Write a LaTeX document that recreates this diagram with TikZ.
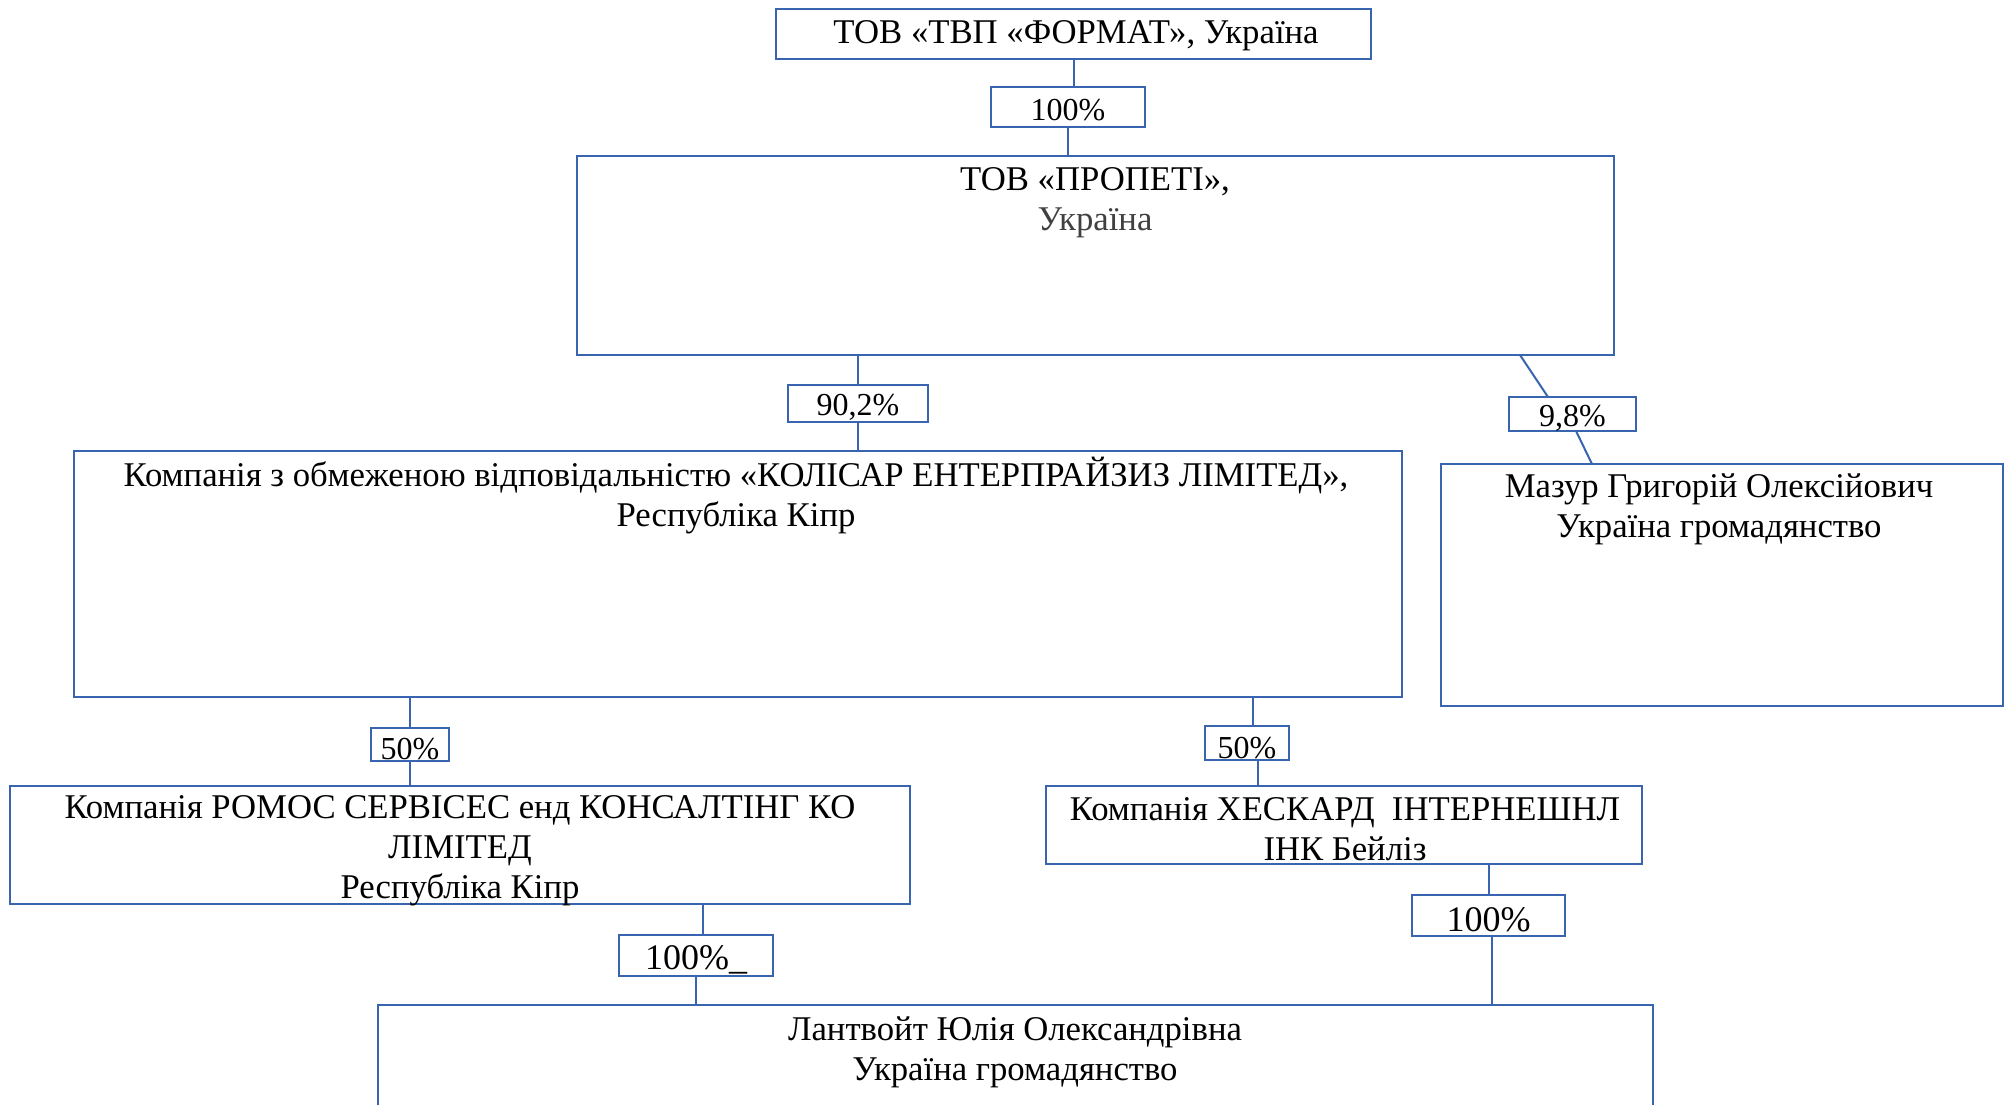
\documentclass[tikz,border=0pt]{standalone}
\usepackage{fontspec}
\setmainfont{Liberation Serif}
\definecolor{lineblue}{RGB}{56,100,176}
\begin{document}
\begin{tikzpicture}[x=1pt,y=-1pt,
  box/.style={draw=lineblue,line width=2.5pt,rectangle,inner sep=0pt,outer sep=0pt,fill=white},
  conn/.style={draw=lineblue,line width=2pt},
  main/.style={font=\fontsize{34.7}{40}\selectfont,align=center,inner sep=0pt},
  pct/.style={font=\fontsize{32}{38}\selectfont,inner sep=0pt},
  bigpct/.style={font=\fontsize{36}{40}\selectfont,inner sep=0pt}]
\clip (0,0) rectangle (2011,1104);
\fill[white] (0,0) rectangle (2011,1104);

% boxes
\node[box,minimum width=595,minimum height=50]  (b1) at (1073.5,34) {};
\node[box,minimum width=154,minimum height=40]  (p1) at (1068,107) {};
\node[box,minimum width=1037,minimum height=199] (b2) at (1095.5,255.5) {};
\node[box,minimum width=140,minimum height=37]  (p2) at (858,403.5) {};
\node[box,minimum width=127,minimum height=34]  (p3) at (1572.5,414) {};
\node[box,minimum width=1328,minimum height=246] (b3) at (738,574) {};
\node[box,minimum width=562,minimum height=242] (b4) at (1722,585) {};
\node[box,minimum width=78,minimum height=33]   (p4) at (410,744.5) {};
\node[box,minimum width=84,minimum height=34]   (p5) at (1247,743) {};
\node[box,minimum width=900,minimum height=118] (b5) at (460,845) {};
\node[box,minimum width=596,minimum height=78]  (b6) at (1344,825) {};
\node[box,minimum width=154,minimum height=41]  (p6) at (696,955.5) {};
\node[box,minimum width=153,minimum height=41]  (p7) at (1488.5,915.5) {};
\node[box,minimum width=1275,minimum height=135] (b7) at (1015.5,1072.5) {};

% helper coordinates for off-centre connectors
\coordinate (h5a) at (1253,700);
\coordinate (h5b) at (1258,700);
\coordinate (h6a) at (703,900);
\coordinate (h7b) at (1492,950);

% connectors
\draw[conn] (b1.south) -- (b1.south |- p1.north);
\draw[conn] (p1.south) -- (p1.south |- b2.north);
\draw[conn] (p2.north |- b2.south) -- (p2.north);
\draw[conn] (p2.south) -- (p2.south |- b3.north);
\draw[conn] ([xshift=-94]b2.south east) -- ([xshift=39]p3.north west);
\draw[conn] ([xshift=67]p3.south west) -- ([xshift=151]b4.north west);
\draw[conn] (p4.north |- b3.south) -- (p4.north);
\draw[conn] (p4.south) -- (p4.south |- b5.north);
\draw[conn] (h5a |- b3.south) -- (h5a |- p5.north);
\draw[conn] (h5b |- p5.south) -- (h5b |- b6.north);
\draw[conn] (h6a |- b5.south) -- (h6a |- p6.north);
\draw[conn] (p6.south) -- (p6.south |- b7.north);
\draw[conn] (p7.north |- b6.south) -- (p7.north);
\draw[conn] (h7b |- p7.south) -- (h7b |- b7.north);

% texts
\node[main] (t1) at (1076,36) {ТОВ «ТВП «ФОРМАТ», Україна};
\node[pct]  (tp1) at (1068,110) {100\%};
\node[main] (t2) at (1095,203) {ТОВ «ПРОПЕТІ»,\\ \textcolor{black!75}{Україна}};
\node[pct]  (tp2) at (858,407) {90,2\%};
\node[pct]  (tp3) at (1572.5,418) {9,8\%};
\node[main] (t3) at (736,496) {Компанія з обмеженою відповідальністю «КОЛІСАР ЕНТЕРПРАЙЗИЗ ЛІМІТЕД»,\\ Республіка Кіпр};
\node[main] (t4) at (1719,509.5) {Мазур Григорій Олексійович\\ Україна громадянство};
\node[pct]  (tp4) at (410,749) {50\%};
\node[pct]  (tp5) at (1247,748) {50\%};
\node[main] (t5) at (460,851) {Компанія РОМОС СЕРВІСЕС енд КОНСАЛТІНГ КО\\ ЛІМІТЕД\\ Республіка Кіпр};
\node[main] (t6) at (1345,829) {Компанія ХЕСКАРД\ \ ІНТЕРНЕШНЛ\\ ІНК Бейліз};
\node[bigpct] (tp6) at (696,960) {100\%\_};
\node[bigpct] (tp7) at (1488.5,920) {100\%};
\node[main] (t7) at (1015,1052.5) {Лантвойт Юлія Олександрівна\\ Україна громадянство};
\end{tikzpicture}
\end{document}
